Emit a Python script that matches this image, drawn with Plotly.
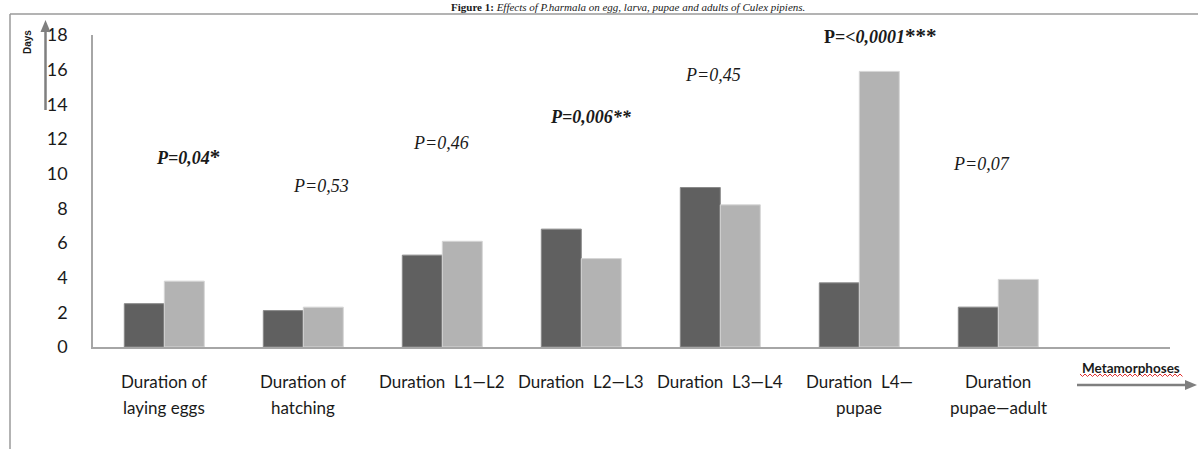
import plotly.graph_objects as go

# Development durations (days) per stage, two groups
stages = [
    "Duration of<br>laying eggs",
    "Duration of<br>hatching",
    "Duration\u00a0 L1\u2014L2",
    "Duration\u00a0 L2\u2014L3",
    "Duration\u00a0 L3\u2014L4",
    "Duration\u00a0 L4\u2014<br>pupae",
    "Duration<br>pupae\u2014adult",
]
control_days = [2.5, 2.1, 5.3, 6.8, 9.2, 3.7, 2.3]
treated_days = [3.8, 2.3, 6.1, 5.1, 8.2, 15.9, 3.9]
STAR = '<span style="font-size:21px">{}</span>'
p_labels = [
    "<b><i>P=0,04</i>" + STAR.format("*") + "</b>",
    "<i>P=0,53</i>",
    "<i>P=0,46</i>",
    "<b><i>P=0,006**</i></b>",
    "<i>P=0,45</i>",
    "<b>P=&lt;<i>0,0001</i>" + STAR.format("***") + "</b>",
    "<i>P=0,07</i>",
]
y_ticks = [0, 2, 4, 6, 8, 10, 12, 14, 16, 18]

W, H = 1198, 449
L, R, T, B = 93, 1170, 35, 347
CAT = 139.0
X0 = 164.3


def pxx(px):
    return (px - L) / (R - L)


def pxy(py):
    return (B - py) / (B - T)


x_idx = list(range(len(stages)))

fig = go.Figure()
fig.add_trace(go.Bar(
    x=x_idx, y=control_days, marker=dict(color="#606060", line=dict(color="#8a8a8a", width=1)),
    showlegend=False, hoverinfo="skip"))
fig.add_trace(go.Bar(
    x=x_idx, y=treated_days, marker=dict(color="#b3b3b3", line=dict(color="#d6d6d6", width=1)),
    showlegend=False, hoverinfo="skip"))

left = (L - X0) / CAT
right = left + (R - L) / CAT

annotations = []

# stage names under the bars
label_font = dict(family="Lato", size=17, color="#1a1a1a")
for i, s in enumerate(stages):
    for j, line in enumerate(s.split("<br>")):
        annotations.append(dict(
            x=i, xref="x", y=pxy(381 + 26 * j), yref="paper", text=line,
            showarrow=False, font=label_font, xanchor="center", yanchor="middle"))

# p-values above each stage
p_pos = [(188, 157), (321, 186), (441, 143), (591, 117), (713, 75), (880, 36), (981, 164)]
for (px, py), t in zip(p_pos, p_labels):
    annotations.append(dict(
        x=pxx(px), xref="paper", y=pxy(py), yref="paper", text=t, showarrow=False,
        font=dict(family="Liberation Serif", size=18, color="#1a1a1a"),
        xanchor="center", yanchor="middle"))

# title
annotations.append(dict(
    x=pxx(628), xref="paper", y=pxy(7), yref="paper",
    text="<b>Figure 1:</b> <i>Effects of P.harmala on egg, larva, pupae and adults of Culex pipiens.</i>",
    showarrow=False, font=dict(family="Liberation Serif", size=11, color="#1a1a1a"),
    xanchor="center", yanchor="middle"))

# y-axis name
annotations.append(dict(
    x=pxx(27), xref="paper", y=pxy(42), yref="paper", text="<b>Days</b>", textangle=-90,
    showarrow=False, font=dict(family="Liberation Sans Narrow, Liberation Sans", size=10, color="#1a1a1a"),
    xanchor="center", yanchor="middle"))

# x-axis name
annotations.append(dict(
    x=pxx(1131), xref="paper", y=pxy(368), yref="paper", text="<b>Metamorphoses</b>",
    showarrow=False, font=dict(family="Lato", size=13.5, color="#1a1a1a"),
    xanchor="center", yanchor="middle"))

ARROW = "#7f7f7f"
shapes = []
# y-axis arrow
shapes.append(dict(type="line", xref="paper", yref="paper", x0=pxx(45.5), x1=pxx(45.5),
                   y0=pxy(110), y1=pxy(30), line=dict(color=ARROW, width=2.5)))
shapes.append(dict(type="path", xref="paper", yref="paper", fillcolor=ARROW,
                   line=dict(color=ARROW, width=0),
                   path=f"M {pxx(45.5)},{pxy(20)} L {pxx(40.5)},{pxy(32)} L {pxx(50.5)},{pxy(32)} Z"))
# x-axis arrow
shapes.append(dict(type="line", xref="paper", yref="paper", x0=pxx(1077), x1=pxx(1186),
                   y0=pxy(385), y1=pxy(385), line=dict(color=ARROW, width=2.5)))
shapes.append(dict(type="path", xref="paper", yref="paper", fillcolor=ARROW,
                   line=dict(color=ARROW, width=0),
                   path=f"M {pxx(1197)},{pxy(385)} L {pxx(1185)},{pxy(380)} L {pxx(1185)},{pxy(390)} Z"))

# page frame
shapes.append(dict(type="line", xref="paper", yref="paper", x0=pxx(10), x1=pxx(10),
                   y0=pxy(14), y1=pxy(449), line=dict(color="#9a9a9a", width=1.5)))
shapes.append(dict(type="line", xref="paper", yref="paper", x0=pxx(10), x1=pxx(1198),
                   y0=pxy(14), y1=pxy(14), line=dict(color="#9a9a9a", width=1.5)))

# spell-check squiggle under the x-axis name
pts = []
xx = 1080.0
k = 0
while xx <= 1183:
    yy = 375 + (1.5 if k % 2 else -1.0)
    pts.append((pxx(xx), pxy(yy)))
    xx += 2.5
    k += 1
path = "M " + " L ".join(f"{a:.5f},{b:.5f}" for a, b in pts)
shapes.append(dict(type="path", xref="paper", yref="paper", path=path,
                   line=dict(color="#e03030", width=1)))

fig.update_layout(
    width=W, height=H,
    margin=dict(l=L, r=W - R, t=T, b=H - B, pad=0),
    paper_bgcolor="white", plot_bgcolor="white",
    barmode="group", bargap=1 - 80 / CAT, bargroupgap=0,
    annotations=annotations, shapes=shapes,
    xaxis=dict(range=[left, right], showticklabels=False, ticks="", showgrid=False,
               zeroline=False, showline=True, linecolor="#a6a6a6", linewidth=2),
    yaxis=dict(range=[0, 18], tickvals=y_ticks, showgrid=False, zeroline=False,
               showline=True, linecolor="#a6a6a6", linewidth=1.5, ticks="",
               ticklabelstandoff=20,
               tickfont=dict(family="Lato", size=18, color="#1a1a1a")),
)

fig.write_html("out.html")
